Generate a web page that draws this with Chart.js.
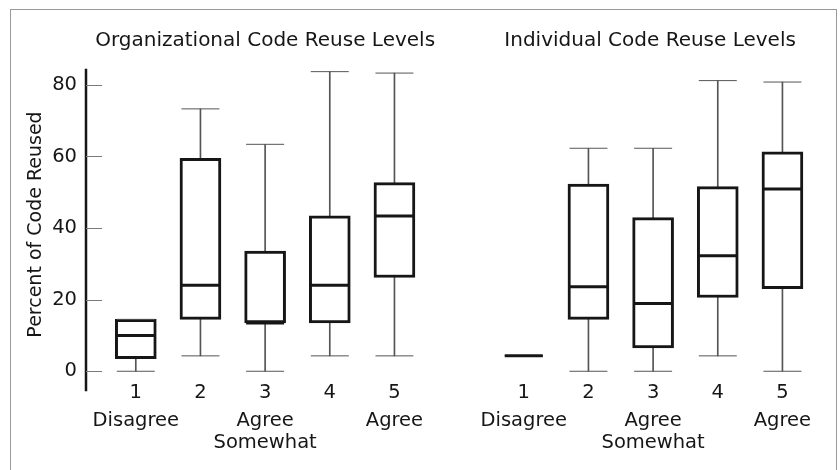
<!DOCTYPE html>
<html>
<head>
<meta charset="utf-8">
<title>Code Reuse Levels</title>
<script src="https://cdn.jsdelivr.net/npm/chart.js@4/dist/chart.umd.min.js"></script>
<style>
  html, body { margin: 0; padding: 0; background: #fff; }
  #wrap { width: 840px; height: 470px; }
</style>
</head>
<body>
<div id="wrap"><canvas id="chart" width="840" height="470"></canvas></div>
<script>
// Agreement categories and their x positions in each panel
const categories = ['1', '2', '3', '4', '5'];
const orgPositions = [1, 2, 3, 4, 5];
const indPositions = [7, 8, 9, 10, 11];
const agreementPositions = [1, 3, 5, 7, 9, 11];
const agreementLabels = ['Disagree', ['Agree', 'Somewhat'], 'Agree', 'Disagree', ['Agree', 'Somewhat'], 'Agree'];
const panelTitles = ['Organizational Code Reuse Levels', 'Individual Code Reuse Levels'];
const yTicks = [0, 20, 40, 60, 80];

// Organizational code reuse: five-number summaries (percent of code reused)
const orgMin    = [0,    4.3,  0,    4.3,  4.3];
const orgQ1     = [3.5,  14.5, 13.5, 13.5, 26.2];
const orgMedian = [10,   24,   13.5, 24,   43.4];
const orgQ3     = [14.5, 59.5, 33.6, 43.4, 52.7];
const orgMax    = [14.5, 73.3, 63.4, 83.7, 83.3];

// Individual code reuse: five-number summaries
const indMin    = [4.3, 0,    0,    4.3,  0];
const indQ1     = [4.3, 14.5, 6.5,  20.6, 23.1];
const indMedian = [4.3, 23.6, 18.9, 32.3, 50.9];
const indQ3     = [4.3, 52.3, 42.9, 51.6, 61.3];
const indMax    = [4.3, 62.3, 62.3, 81.2, 80.8];

const FONT = 'DejaVu Sans';
const INK = '#161616';

function pts(pos, vals) {
  return pos.map((x, i) => ({ x: x, y: vals[i] }));
}
function ranges(pos, lo, hi) {
  return pos.map((x, i) => ({ x: x, y: [lo[i], hi[i]] }));
}

const whiskerData = ranges(orgPositions, orgMin, orgMax).concat(ranges(indPositions, indMin, indMax));
const boxData = ranges(orgPositions, orgQ1, orgQ3).concat(ranges(indPositions, indQ1, indQ3));
const medianData = pts(orgPositions, orgMedian).concat(pts(indPositions, indMedian));
const capData = pts(orgPositions, orgMin).concat(pts(orgPositions, orgMax),
                pts(indPositions, indMin), pts(indPositions, indMax));

const tickLabelFor = (v) => {
  let i = orgPositions.indexOf(v);
  if (i < 0) i = indPositions.indexOf(v);
  return i < 0 ? '' : categories[i];
};
const agreementLabelFor = (v) => {
  const i = agreementPositions.indexOf(v);
  return i < 0 ? '' : agreementLabels[i];
};

// Frame, panel titles, the y axis spine and its inward tick stubs
const decor = {
  id: 'decor',
  beforeDraw(chart) {
    const ctx = chart.ctx;
    ctx.save();
    ctx.fillStyle = '#fff';
    ctx.fillRect(0, 0, chart.width, chart.height);
    ctx.strokeStyle = '#9a9a9a';
    ctx.lineWidth = 1;
    ctx.strokeRect(10.5, 9.5, 826, 470);
    ctx.restore();
  },
  afterDraw(chart) {
    const ctx = chart.ctx;
    const x = chart.scales.x;
    const y = chart.scales.y;
    const left = chart.chartArea.left;
    ctx.save();
    // spine
    ctx.strokeStyle = INK;
    ctx.lineWidth = 2.5;
    ctx.beginPath();
    ctx.moveTo(left, y.getPixelForValue(84.5));
    ctx.lineTo(left, y.getPixelForValue(-5.6));
    ctx.stroke();
    // tick stubs
    ctx.strokeStyle = '#7a7a7a';
    ctx.lineWidth = 1;
    yTicks.forEach(v => {
      const py = Math.round(y.getPixelForValue(v)) + 0.5;
      ctx.beginPath();
      ctx.moveTo(left, py);
      ctx.lineTo(left + 16, py);
      ctx.stroke();
    });
    // panel titles
    ctx.fillStyle = INK;
    ctx.font = '20px "' + FONT + '"';
    ctx.textAlign = 'center';
    ctx.textBaseline = 'middle';
    ctx.fillText(panelTitles[0], x.getPixelForValue(3), 41);
    ctx.fillText(panelTitles[1], x.getPixelForValue(9) - 3, 41);
    ctx.restore();
  }
};

new Chart(document.getElementById('chart'), {
  type: 'bar',
  data: {
    datasets: [
      {
        type: 'bar',
        data: whiskerData,
        barThickness: 1,
        backgroundColor: '#555',
        borderWidth: 0,
        grouped: false,
        order: 4
      },
      {
        type: 'bar',
        data: boxData,
        barThickness: 41,
        backgroundColor: '#fff',
        borderColor: INK,
        borderWidth: 3,
        borderSkipped: false,
        grouped: false,
        order: 3
      },
      {
        type: 'line',
        data: capData,
        showLine: false,
        pointStyle: 'line',
        pointRadius: 19,
        pointBorderWidth: 1,
        pointBorderColor: '#555',
        order: 2
      },
      {
        type: 'line',
        data: medianData,
        showLine: false,
        pointStyle: 'line',
        pointRadius: 19,
        pointBorderWidth: 3,
        pointBorderColor: INK,
        order: 1
      }
    ]
  },
  options: {
    responsive: false,
    animation: false,
    events: [],
    layout: { padding: { left: 0, right: 20, top: 67, bottom: 12 } },
    plugins: { legend: { display: false }, tooltip: { enabled: false } },
    scales: {
      x: {
        type: 'linear',
        position: 'bottom',
        weight: 0,
        offset: false,
        min: 0.23,
        max: 11.55,
        grid: { display: false, drawTicks: false },
        border: { display: false },
        afterBuildTicks: (s) => { s.ticks = orgPositions.concat(indPositions).map(v => ({ value: v })); },
        afterFit: (s) => { s.height = 24; },
        ticks: {
          autoSkip: false,
          maxRotation: 0,
          padding: 0,
          color: INK,
          font: { family: FONT, size: 19.5, lineHeight: 1.13 },
          callback: (v) => tickLabelFor(v)
        }
      },
      x2: {
        type: 'linear',
        position: 'bottom',
        weight: 1,
        offset: false,
        min: 0.23,
        max: 11.55,
        grid: { display: false, drawTicks: false },
        border: { display: false },
        afterBuildTicks: (s) => { s.ticks = agreementPositions.map(v => ({ value: v })); },
        afterFit: (s) => { s.height = 52; },
        ticks: {
          autoSkip: false,
          maxRotation: 0,
          padding: 4,
          color: INK,
          font: { family: FONT, size: 19.5, lineHeight: 1.13 },
          callback: (v) => agreementLabelFor(v)
        }
      },
      y: {
        type: 'linear',
        min: -3,
        max: 85,
        grid: { display: false, drawTicks: false },
        border: { display: false },
        afterBuildTicks: (s) => { s.ticks = yTicks.map(v => ({ value: v })); },
        afterFit: (s) => { s.width = 86; },
        ticks: {
          padding: 9,
          color: INK,
          font: { family: FONT, size: 19.5 }
        },
        title: {
          display: true,
          text: 'Percent of Code Reused',
          color: INK,
          font: { family: FONT, size: 19 },
          padding: { top: 25, bottom: 0 }
        }
      }
    }
  },
  plugins: [decor]
});
</script>
</body>
</html>
